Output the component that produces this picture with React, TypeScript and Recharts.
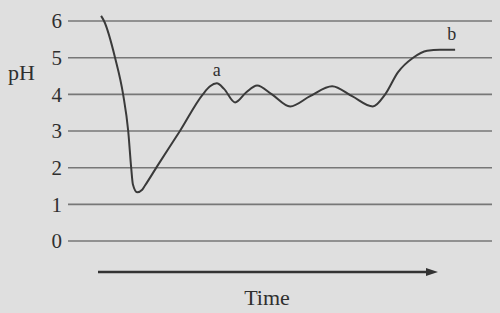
import React from "react";
import { LineChart, Line, XAxis, YAxis, ReferenceLine, ReferenceDot } from "recharts";

// time (arbitrary units, 0-100 across the plot) and pH
const time = [
  7.8, 8.5, 11.1, 13.0, 14.2, 14.9, 15.3, 16.3, 17.5, 18.2, 21.2, 26.4, 31.8, 33.5, 35.1, 36.8,
  39.4, 42.0, 44.6, 48.1, 52.4, 57.1, 62.3, 67.0, 71.9, 74.8, 77.8, 81.4, 84.7, 87.7, 91.3,
];
const ph = [
  6.14, 6.0, 5.0, 4.0, 3.0, 2.0, 1.55, 1.33, 1.4, 1.52, 2.07, 3.0, 4.0, 4.22, 4.3, 4.15,
  3.78, 4.05, 4.24, 4.0, 3.67, 3.95, 4.22, 3.95, 3.67, 4.0, 4.6, 5.0, 5.19, 5.22, 5.22,
];
const yTicks = [0, 1, 2, 3, 4, 5, 6];
const labelA = { t: 35.1, v: 4.3, text: "a" };
const labelB = { t: 90.5, v: 5.22, text: "b" };

const data = time.map((t, i) => ({ t, ph: ph[i] }));

const serif = "'Liberation Serif', 'Times New Roman', serif";
const ink = "#2f2f2f";

export default function App() {
  return (
    <div
      style={{
        position: "absolute",
        left: 0,
        top: 0,
        width: 500,
        height: 313,
        background: "#dfdfdf",
        fontFamily: serif,
      }}
    >
      <LineChart
        width={500}
        height={313}
        data={data}
        margin={{ top: 13.7, right: 8, bottom: 72, left: 0 }}
      >
        <XAxis type="number" dataKey="t" domain={[0, 100]} hide />
        <YAxis
          type="number"
          domain={[0, 6.2]}
          ticks={yTicks}
          width={68}
          axisLine={false}
          tickLine={false}
          tickSize={0}
          tickMargin={6}
          tick={{ fill: ink, fontSize: 21, fontFamily: serif }}
        />
        {yTicks.map((v) => (
          <ReferenceLine key={v} y={v} stroke="#777" strokeWidth={1.6} />
        ))}
        <Line
          type="monotone"
          dataKey="ph"
          stroke="#3a3a3a"
          strokeWidth={2}
          dot={false}
          isAnimationActive={false}
        />
        <ReferenceDot
          x={labelA.t}
          y={labelA.v}
          r={0}
          label={{ value: labelA.text, position: "top", offset: 7, fill: ink, fontSize: 18, fontFamily: serif }}
        />
        <ReferenceDot
          x={labelB.t}
          y={labelB.v}
          r={0}
          label={{ value: labelB.text, position: "top", offset: 10, fill: ink, fontSize: 18, fontFamily: serif }}
        />
        <text x={8} y={80} fill={ink} fontSize={22} fontFamily={serif}>
          pH
        </text>
        <defs>
          <marker id="arrowHead" markerWidth="12" markerHeight="8" refX="0" refY="4" orient="auto" markerUnits="userSpaceOnUse">
            <path d="M0,0 L12,4 L0,8 z" fill="#333" />
          </marker>
        </defs>
        <line x1={98} y1={272} x2={426} y2={272} stroke="#333" strokeWidth={2.5} markerEnd="url(#arrowHead)" />
        <text x={267} y={305} textAnchor="middle" fill={ink} fontSize={22} fontFamily={serif}>
          Time
        </text>
      </LineChart>
    </div>
  );
}
